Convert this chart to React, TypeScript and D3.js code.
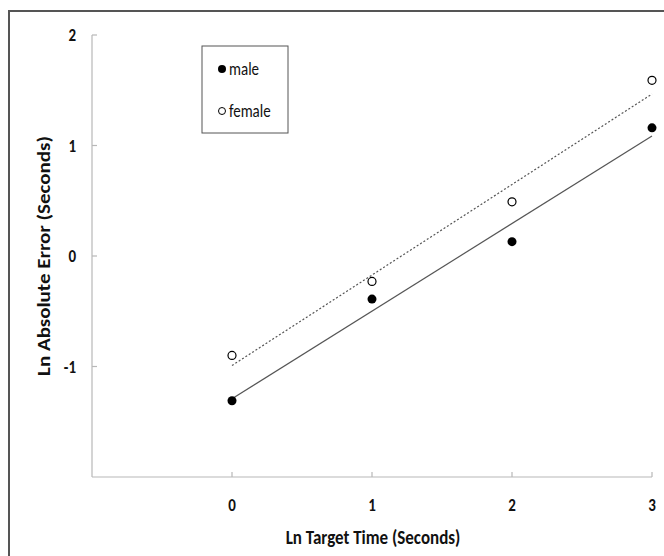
import React from "react";
import * as d3 from "d3";

const xValues = [0, 1, 2, 3];
const maleValues = [-1.31, -0.39, 0.13, 1.16];
const femaleValues = [-0.9, -0.23, 0.49, 1.59];
const xTicks = [0, 1, 2, 3];
const yTicks = [-1, 0, 1, 2];
const legendLabels = ["male", "female"];

function fit(xs: number[], ys: number[]) {
  const mx = d3.mean(xs)!;
  const my = d3.mean(ys)!;
  let num = 0, den = 0;
  xs.forEach((x, i) => { num += (x - mx) * (ys[i] - my); den += (x - mx) ** 2; });
  const slope = num / den;
  const b = my - slope * mx;
  return (x: number) => b + slope * x;
}

export default function App() {
  const W = 664, H = 556;
  const x = d3.scaleLinear().domain([-1, 3]).range([92, 652]);
  const y = d3.scaleLinear().domain([-2, 2]).range([477, 35]);
  const font = "Carlito, 'Open Sans', 'Liberation Sans', Arial, sans-serif";
  const mFit = fit(xValues, maleValues);
  const fFit = fit(xValues, femaleValues);
  const x0 = d3.min(xValues)!, x1 = d3.max(xValues)!;
  const axisColor = "#b8b8b8";
  const sy = 1.2;
  return (
    <svg width={W} height={H} style={{ position: "absolute", left: 0, top: 0 }}>
      <rect x={0} y={0} width={W} height={H} fill="#fff" />
      <line x1={9} y1={10} x2={9} y2={H} stroke="#555" strokeWidth={2} />
      <line x1={8} y1={11} x2={W} y2={11} stroke="#555" strokeWidth={2} />
      {/* axes */}
      <line x1={x(-1)} y1={y(2)} x2={x(-1)} y2={y(-2)} stroke={axisColor} strokeWidth={1.2} />
      <line x1={x(-1)} y1={y(-2)} x2={x(3)} y2={y(-2)} stroke={axisColor} strokeWidth={1.2} />
      {yTicks.map((t) => (
        <g key={"y" + t}>
          <line x1={x(-1)} x2={x(-1) + 5} y1={y(t)} y2={y(t)} stroke={axisColor} strokeWidth={1.2} />
          <text transform={`translate(76,${y(t)}) scale(1,${sy})`} dy="0.35em" textAnchor="end" fontFamily={font} fontWeight="bold" fontSize={15} fill="#111">
            {t}
          </text>
        </g>
      ))}
      {xTicks.map((t) => (
        <g key={"x" + t}>
          <line x1={x(t)} x2={x(t)} y1={y(-2)} y2={y(-2) - 5} stroke={axisColor} strokeWidth={1.2} />
          <text transform={`translate(${x(t)},505) scale(1,${sy})`} dy="0.35em" textAnchor="middle" fontFamily={font} fontWeight="bold" fontSize={15} fill="#111">
            {t}
          </text>
        </g>
      ))}
      <text transform={`translate(373,537) scale(1,${sy})`} dy="0.35em" textAnchor="middle" fontFamily={font} fontWeight="bold" fontSize={17} fill="#111">
        Ln Target Time (Seconds)
      </text>
      <text transform={`translate(44,${y(0)}) scale(1,${sy}) rotate(-90)`} dy="0.35em" textAnchor="middle" fontFamily={font} fontWeight="bold" fontSize={17.5} fill="#111">
        Ln Absolute Error (Seconds)
      </text>
      {/* regression lines */}
      <line x1={x(x0)} y1={y(mFit(x0))} x2={x(x1)} y2={y(mFit(x1))} stroke="#555" strokeWidth={1.2} />
      <line x1={x(x0)} y1={y(fFit(x0))} x2={x(x1)} y2={y(fFit(x1))} stroke="#555" strokeWidth={1.2} strokeDasharray="2,2" />
      {/* points */}
      {xValues.map((v, i) => (
        <circle key={"m" + i} cx={x(v)} cy={y(maleValues[i])} r={4.5} fill="#000" />
      ))}
      {xValues.map((v, i) => (
        <circle key={"f" + i} cx={x(v)} cy={y(femaleValues[i])} r={4} fill="#fff" stroke="#000" strokeWidth={1.2} />
      ))}
      {/* legend */}
      <rect x={202} y={46} width={86} height={87} fill="#fff" stroke="#555" strokeWidth={1} />
      <circle cx={222} cy={69} r={4} fill="#000" />
      <circle cx={222} cy={111} r={3.5} fill="#fff" stroke="#000" strokeWidth={1} />
      <text transform={`translate(229,69) scale(1,${sy})`} dy="0.35em" fontFamily={font} fontSize={15} fill="#111">{legendLabels[0]}</text>
      <text transform={`translate(229,111) scale(1,${sy})`} dy="0.35em" fontFamily={font} fontSize={15} fill="#111">{legendLabels[1]}</text>
    </svg>
  );
}
